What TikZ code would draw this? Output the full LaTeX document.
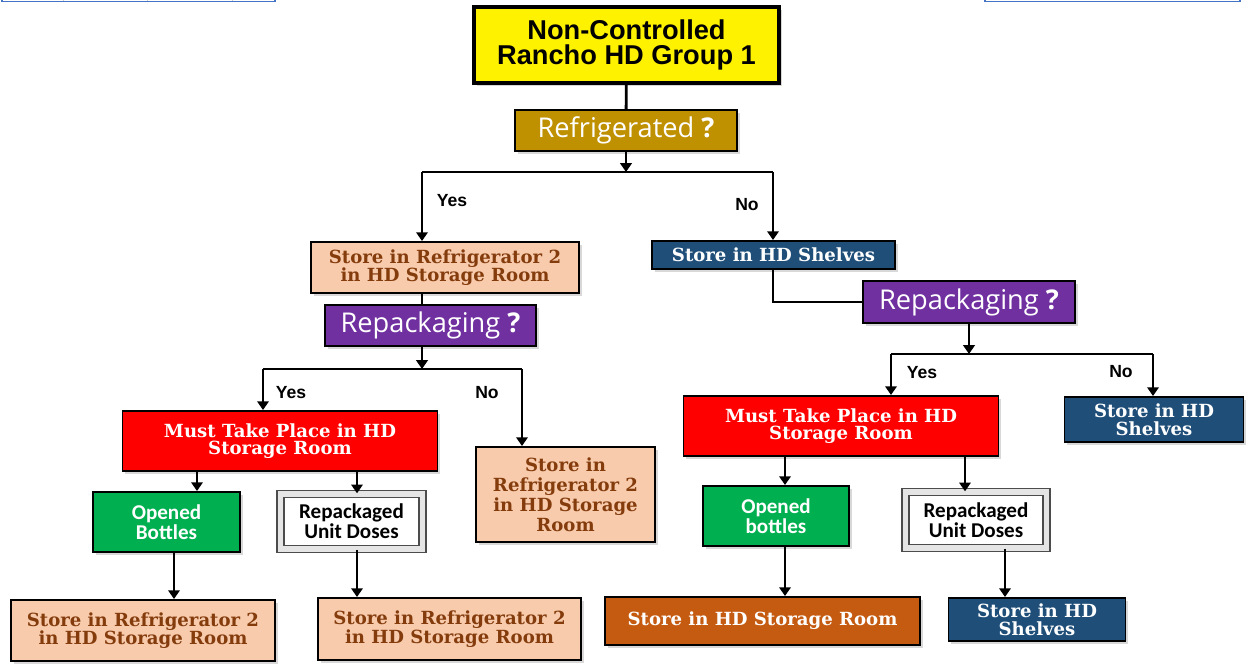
\documentclass[tikz,border=0pt]{standalone}
\usepackage{fontspec}
\usepackage{xcolor}
\usepackage{tikz}
\usetikzlibrary{arrows.meta,positioning,shadows}
\newfontfamily\serifbk{DejaVu Serif}
\newfontfamily\sanshd{Liberation Sans}
\newfontfamily\calib{Carlito}
\newfontfamily\handq{Open Sans}
\definecolor{ygold}{HTML}{BF9000}
\definecolor{peach}{HTML}{F8CBAD}
\definecolor{fbrown}{HTML}{843C0C}
\definecolor{navy}{HTML}{1F4E79}
\definecolor{qpurple}{HTML}{7030A0}
\definecolor{okgreen}{HTML}{00B050}
\definecolor{rust}{HTML}{C55A11}
\definecolor{tblue}{HTML}{4472C4}
\tikzset{
  sz/.style 2 args={minimum width=#1*0.02cm,minimum height=#2*0.02cm},
  box/.style={draw,line width=1.1pt,align=center,inner sep=0pt,
              drop shadow={opacity=0.3,shadow xshift=1.5pt,shadow yshift=-1.5pt}},
  tbox/.style={box,fill=yellow,line width=2pt,
               font=\sanshd\bfseries\fontsize{15.5}{14}\selectfont},
  qbox/.style={box,text=white,font=\handq\fontsize{15.5}{17}\selectfont},
  fbox/.style={box,fill=peach,text=fbrown,
               font=\serifbk\bfseries\fontsize{10.3}{10.4}\selectfont},
  nbox/.style={box,fill=navy,text=white,
               font=\serifbk\bfseries\fontsize{10.3}{10.4}\selectfont},
  mbox/.style={box,fill=red,text=white,
               font=\serifbk\bfseries\fontsize{10.3}{10}\selectfont},
  obox/.style={box,fill=okgreen,text=white,
               font=\calib\bfseries\fontsize{12}{11.5}\selectfont},
  rpbox/.style={box,fill=white,draw=gray!60!black,double=gray!20,
                double distance=3pt,line width=0.8pt,
                font=\calib\bfseries\fontsize{12}{11.5}\selectfont},
  lbl/.style={font=\sanshd\bfseries\fontsize{10}{12}\selectfont},
  arr/.style={-{Triangle[length=5pt,width=6.5pt]},line width=1.6pt},
  ln/.style={line width=1.6pt},
}

\begin{document}
\begin{tikzpicture}[x=0.02cm,y=-0.02cm]
\useasboundingbox (0,0) rectangle (1251,666);
\fill[white] (0,0) rectangle (1251,666);
% cut-off tables at the top edge
\draw[tblue,line width=0.8pt] (2,-6) rectangle (275,1.5);
\foreach \x in {63,147,232}{
  \draw[gray!40] (\x,-6) -- (\x,0.8);
}
\draw[tblue,line width=0.8pt] (985,-6) rectangle (1240,1.5);

% top of the tree
\node[tbox,sz={305}{76}] (title) at (626.5,45) {Non-Controlled\\Rancho HD Group 1};
\node[qbox,fill=ygold,sz={222}{41}] (q1) at (626,130.5) {Refrigerated \textbf{?}};
\node[fbox,sz={268}{51}] (storeFridge) at (445,267.5)
  {Store in Refrigerator 2\\in HD Storage Room};
\node[nbox,sz={243}{28}] (storeShelf) at (773.5,255) {Store in HD Shelves};

% second level questions
\node[qbox,fill=qpurple,sz={211}{41}] (q2) at (430.5,325.5) {Repackaging \textbf{?}};
\node[qbox,fill=qpurple,sz={212}{42}] (q3) at (969,302) {Repackaging \textbf{?}};

% left branch
\node[mbox,sz={315}{60}] (mustL) at (280,441) {Must Take Place in HD\\Storage Room};
\node[fbox,sz={179}{95},font=\serifbk\bfseries\fontsize{10.3}{11.4}\selectfont]
  (fridgeNo) at (565.5,494.5) {Store in\\Refrigerator 2\\in HD Storage\\Room};
\node[obox,sz={147}{60}] (openL) at (166.5,522) {Opened\\Bottles};
\node[rpbox,sz={142}{55}] (repL) at (351.5,521.5) {Repackaged\\Unit Doses};
\node[fbox,sz={264}{61}] (fridgeA) at (143,630.5)
  {Store in Refrigerator 2\\in HD Storage Room};
\node[fbox,sz={263}{62}] (fridgeB) at (449.5,629)
  {Store in Refrigerator 2\\in HD Storage Room};

% right branch
\node[mbox,sz={315}{60}] (mustR) at (841,426) {Must Take Place in HD\\Storage Room};
\node[nbox,sz={179}{45}] (shelfNo) at (1154,419.5) {Store in HD\\Shelves};
\node[obox,sz={146}{60}] (openR) at (776,516) {Opened\\bottles};
\node[rpbox,sz={141}{56}] (repR) at (976,520) {Repackaged\\Unit Doses};
\node[nbox,sz={315}{48},fill=rust] (roomR) at (762.5,621) {Store in HD Storage Room};
\node[nbox,sz={177}{43}] (shelfR) at (1037,619.5) {Store in HD\\Shelves};

% yes / no labels
\node[lbl] (yes1) at (452,201) {Yes};
\node[lbl] (no1) at (747,205) {No};
\node[lbl] (yes2) at (291,393) {Yes};
\node[lbl] (no2) at (487,393) {No};
\node[lbl] (yes3) at (922,373) {Yes};
\node[lbl] (no3) at (1121,372) {No};

% split points and arrow columns
\coordinate (k1y) at (422,172);
\coordinate (k1n) at (773,172);
\coordinate (k2y) at (263,369);
\coordinate (k2n) at (522,369);
\coordinate (k3y) at (891,354);
\coordinate (k3n) at (1153,354);
\coordinate (ca) at (197,0);
\coordinate (cb) at (357,0);
\coordinate (cc) at (174,0);
\coordinate (ce) at (785,0);
\coordinate (cf) at (965,0);
\coordinate (ch) at (1005,0);

% connectors
\draw[ln] (title) -- (q1);
\draw[arr] (q1.south) -- (q1.south |- k1y);
\draw[ln] (k1y) -- (k1n);
\draw[arr] (k1y) -- (k1y |- storeFridge.north);
\draw[arr] (k1n) -- (k1n |- storeShelf.north);

\draw[ln] (storeFridge.south -| k1y) -- (q2.north -| k1y);
\draw[arr] (q2.south -| k1y) -- (k1y |- k2y);
\draw[ln] (k2y) -- (k2n);
\draw[arr] (k2y) -- (k2y |- mustL.north);
\draw[arr] (k2n) -- (k2n |- fridgeNo.north);

\draw[ln] (storeShelf.south -| k1n) |- (q3.west);
\draw[arr] (q3.south) -- (q3.south |- k3y);
\draw[ln] (k3y) -- (k3n);
\draw[arr] (k3y) -- (k3y |- mustR.north);
\draw[arr] (k3n) -- (k3n |- shelfNo.north);

\draw[arr] (mustL.south -| ca) -- (openL.north -| ca);
\draw[arr] (mustL.south -| cb) -- (repL.north -| cb);
\draw[arr] (openL.south -| cc) -- (fridgeA.north -| cc);
\draw[arr] (repL.south -| cb) -- (fridgeB.north -| cb);

\draw[arr] (mustR.south -| ce) -- (openR.north -| ce);
\draw[arr] (mustR.south -| cf) -- (repR.north -| cf);
\draw[arr] (openR.south -| ce) -- (roomR.north -| ce);
\draw[arr] (repR.south -| ch) -- (shelfR.north -| ch);
\end{tikzpicture}
\end{document}
